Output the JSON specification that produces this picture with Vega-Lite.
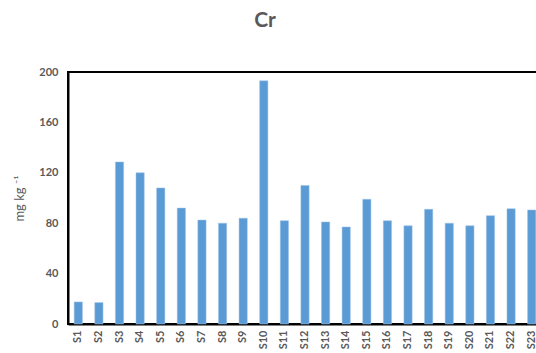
{
  "$schema": "https://vega.github.io/schema/vega-lite/v6.json",
  "autosize": {"type": "none"},
  "padding": {"left": 68, "top": 72, "right": 0, "bottom": 29},
  "width": 474,
  "height": 252,
  "background": "white",
  "title": {"text": "Cr", "fontSize": 21, "font": "Lato", "fontWeight": "bold", "color": "#595959", "anchor": "middle", "dx": -40, "offset": 35},
  "data": {"values": [
    {"site": "S1", "value": 17.5},
    {"site": "S2", "value": 17},
    {"site": "S3", "value": 128.6},
    {"site": "S4", "value": 120},
    {"site": "S5", "value": 108},
    {"site": "S6", "value": 92},
    {"site": "S7", "value": 82.5},
    {"site": "S8", "value": 80},
    {"site": "S9", "value": 84},
    {"site": "S10", "value": 193},
    {"site": "S11", "value": 82},
    {"site": "S12", "value": 110},
    {"site": "S13", "value": 81},
    {"site": "S14", "value": 77},
    {"site": "S15", "value": 99},
    {"site": "S16", "value": 82},
    {"site": "S17", "value": 78},
    {"site": "S18", "value": 91},
    {"site": "S19", "value": 80},
    {"site": "S20", "value": 78},
    {"site": "S21", "value": 86},
    {"site": "S22", "value": 91.5},
    {"site": "S23", "value": 90.5}
  ]},
  "config": {
    "view": {"stroke": "black", "strokeWidth": 2},
    "axis": {"grid": false, "domainColor": "black", "domainWidth": 2, "ticks": false, "labelColor": "#595959", "labelFont": "Lato", "labelFontWeight": "bold", "titleColor": "#595959", "titleFont": "Lato"}
  },
  "mark": {"type": "bar", "color": "#5B9BD5", "stroke": "#9DC3E6", "strokeWidth": 0.5},
  "encoding": {
    "x": {"field": "site", "type": "nominal", "sort": null,
      "scale": {"paddingInner": 0.6, "paddingOuter": 0.3},
      "axis": {"title": null, "labelAngle": -90, "labelFontSize": 11, "labelPadding": 6}},
    "y": {"field": "value", "type": "quantitative",
      "scale": {"domain": [0, 200]},
      "axis": {"values": [0, 40, 80, 120, 160, 200], "title": "mg kg ⁻¹", "titleFontWeight": "normal", "titleFontSize": 13, "titlePadding": 12, "labelFontSize": 11, "labelPadding": 10}}
  }
}
